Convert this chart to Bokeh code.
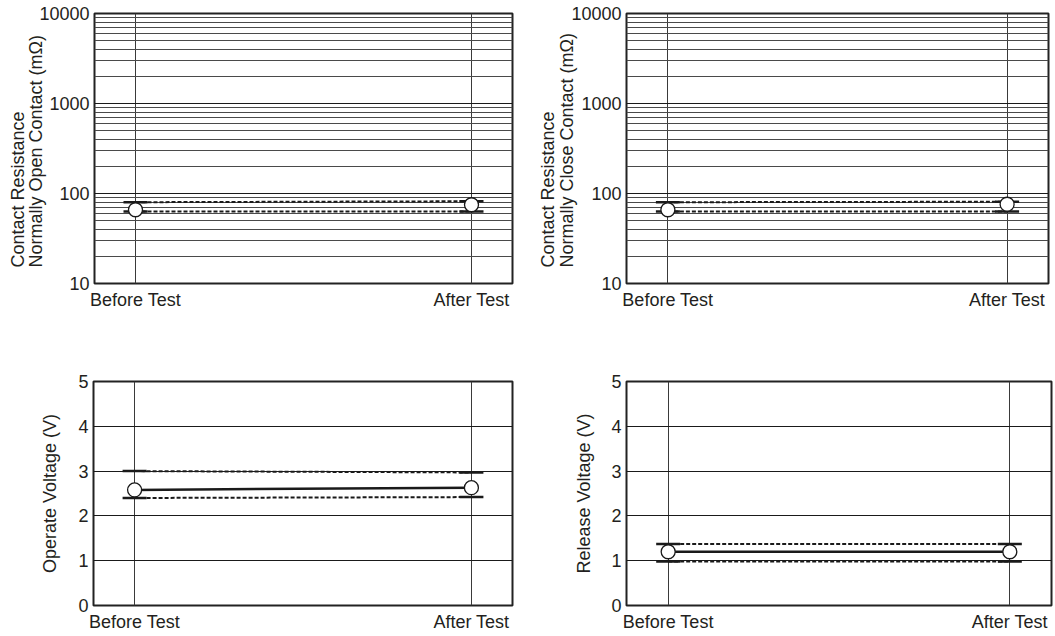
from bokeh.plotting import figure
from bokeh.layouts import column, row
from bokeh.models import Range1d, FixedTicker, PrintfTickFormatter, Title
from bokeh.embed import file_html
from bokeh.resources import INLINE

# ---------------- data ----------------
categories = ["Before Test", "After Test"]
x_pos = [0, 1]

# Contact resistance, normally open contact (mOhm)
no_max = [80, 82]
no_min = [63, 63]
no_mean = [66, 75]

# Contact resistance, normally close contact (mOhm)
nc_max = [80, 81]
nc_min = [63, 63]
nc_mean = [66, 76]

# Operate voltage (V)
op_max = [3.0, 2.97]
op_min = [2.40, 2.42]
op_mean = [2.58, 2.63]

# Release voltage (V)
rel_max = [1.37, 1.37]
rel_min = [0.98, 0.98]
rel_mean = [1.20, 1.20]

log_major = [10, 100, 1000, 10000]
log_minor = [m * d for d in (10, 100, 1000) for m in range(2, 10)]
lin_ticks = [0, 1, 2, 3, 4, 5]

FONT = "Liberation Sans"
TXT = "#231f20"
INK = "#1a1a1a"
FS = "18px"
XPAD = 0.122


def make_panel(mx, mn, mean, log, width, height, bl, br, bt, bb,
               titles=None, axis_label=None, label_standoff=15,
               mean_line=False):
    if log:
        p = figure(width=width, height=height, x_range=Range1d(-XPAD, 1 + XPAD),
                   y_range=Range1d(10, 10000), y_axis_type="log",
                   output_backend="svg", toolbar_location=None)
    else:
        p = figure(width=width, height=height, x_range=Range1d(-XPAD, 1 + XPAD),
                   y_range=Range1d(0, 5), output_backend="svg",
                   toolbar_location=None)
    p.min_border_left = bl
    p.min_border_right = br
    p.min_border_top = bt
    p.min_border_bottom = bb
    p.background_fill_color = "white"
    p.border_fill_color = "white"
    p.outline_line_color = "#222222"
    p.outline_line_width = 2
    p.outline_line_alpha = 1

    p.xaxis.ticker = FixedTicker(ticks=x_pos)
    p.xaxis.major_label_overrides = {i: c for i, c in zip(x_pos, categories)}
    if log:
        p.yaxis.ticker = FixedTicker(ticks=log_major)
        p.yaxis.formatter = PrintfTickFormatter(format="%d")
        p.ygrid.ticker = FixedTicker(ticks=log_major, minor_ticks=log_minor)
        p.ygrid.minor_grid_line_color = "#4a4a4a"
        p.ygrid.minor_grid_line_width = 1
    else:
        p.yaxis.ticker = FixedTicker(ticks=lin_ticks)
    for ax in (p.xaxis, p.yaxis):
        ax.axis_line_color = None
        ax.major_tick_line_color = None
        ax.minor_tick_line_color = None
        ax.major_tick_out = 0
        ax.major_tick_in = 0
        ax.minor_tick_out = 0
        ax.minor_tick_in = 0
        ax.major_label_text_font = FONT
        ax.major_label_text_font_size = FS
        ax.major_label_text_color = TXT
    p.xaxis.major_label_standoff = 6
    p.yaxis.major_label_standoff = 5
    p.ygrid.grid_line_color = "#1a1a1a"
    p.ygrid.grid_line_width = 1
    p.xgrid.grid_line_color = "#3a3a3a"
    p.xgrid.grid_line_width = 1

    if axis_label:
        p.yaxis.axis_label = axis_label
        p.yaxis.axis_label_text_font = FONT
        p.yaxis.axis_label_text_font_size = FS
        p.yaxis.axis_label_text_font_style = "normal"
        p.yaxis.axis_label_text_color = TXT
        p.yaxis.axis_label_standoff = label_standoff

    if titles:
        for t, so in titles:
            p.add_layout(Title(text=t, align="left", offset=16, standoff=so,
                               text_font=FONT, text_font_size=FS,
                               text_font_style="normal", text_color=TXT),
                         "left")

    # data
    p.line(x_pos, mx, line_dash="4 2", line_width=2, color=INK)
    p.line(x_pos, mn, line_dash="4 2", line_width=2, color=INK)
    if mean_line:
        p.line(x_pos, mean, line_width=2.5, color=INK)
    p.scatter(x_pos, mx, marker="dash", size=24, line_width=2.5, color=INK)
    p.scatter(x_pos, mn, marker="dash", size=24, line_width=2.5, color=INK)
    p.scatter(x_pos, mean, marker="circle", size=14, fill_color="white",
              line_color=INK, line_width=1.3)
    return p


p1 = make_panel(no_max, no_min, no_mean, True, 530, 352, 94, 18, 13, 69,
                titles=[("Normally Open Contact (m\u03a9)", -18),
                        ("Contact Resistance", 10)])
p2 = make_panel(nc_max, nc_min, nc_mean, True, 523, 352, 96, 5, 13, 69,
                titles=[("Normally Close Contact (m\u03a9)", -16),
                        ("Contact Resistance", 10)])
p3 = make_panel(op_max, op_min, op_mean, False, 530, 282, 93, 18, 29, 28,
                axis_label="Operate Voltage (V)", label_standoff=15,
                mean_line=True)
p4 = make_panel(rel_max, rel_min, rel_mean, False, 523, 282, 96, 2, 29, 28,
                axis_label="Release Voltage (V)", label_standoff=14,
                mean_line=True)

layout = column(row(p1, p2), row(p3, p4))
open("out.html", "w").write(file_html(layout, INLINE))
